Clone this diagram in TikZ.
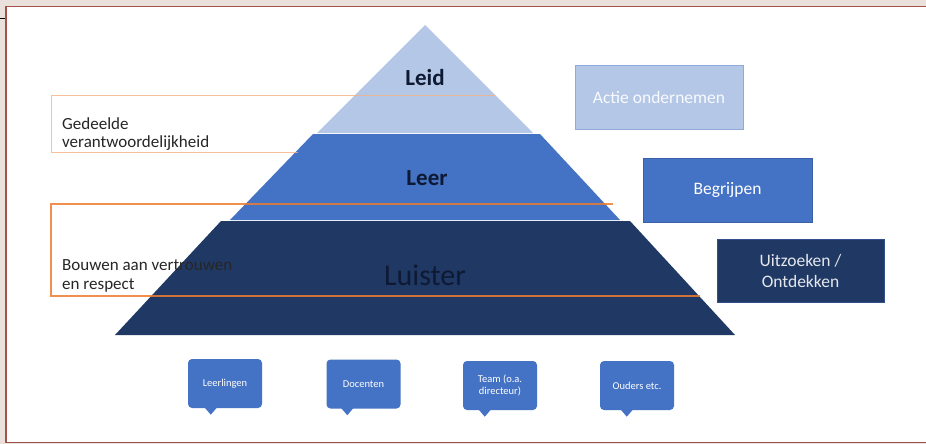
\documentclass[tikz,border=0pt]{standalone}
\usepackage{fontspec}
\setmainfont{Carlito}
\definecolor{bgc}{HTML}{EBE1DC}
\definecolor{framec}{HTML}{A3524B}
\definecolor{lightb}{HTML}{B4C7E7}
\definecolor{lightbd}{HTML}{8FAADC}
\definecolor{midb}{HTML}{4472C4}
\definecolor{darkb}{HTML}{203864}
\definecolor{darkbd}{HTML}{34508A}
\definecolor{orangec}{HTML}{ED7D31}
\definecolor{peachc}{HTML}{F4B183}
\definecolor{txtc}{HTML}{262626}
\definecolor{navytxt}{HTML}{0E1A33}
\tikzset{
  layerlabel/.style={inner sep=0pt, text=navytxt, font=\fontsize{23}{26}\selectfont\bfseries},
  sidetext/.style={inner sep=0pt, anchor=base west, align=left, text=txtc, font=\fontsize{17}{18.5}\selectfont},
  rbox/.style={minimum width=168pt, minimum height=63pt, inner sep=2pt, line width=1pt, align=center, font=\fontsize{17.5}{21}\selectfont},
  bubble/.style={fill=midb, rounded corners=4pt, minimum width=74pt, minimum height=49pt, inner sep=2pt, align=center, text=white, font=\fontsize{10.5}{12}\selectfont},
  bubtip/.style={fill=midb},
  boxline/.style={line width=1.2pt}
}
\begin{document}
\begin{tikzpicture}[x=1pt,y=-1pt]
\useasboundingbox (0,0) rectangle (926,444);
% background and frame
\fill[bgc] (0,0) rectangle (926,444);
\draw[framec, fill=white, line width=1.6pt] (5.7,6.5) rectangle (945,442.5);
\draw[black, line width=1pt] (0,19) -- (5,19);
% pyramid
\fill[lightb] (425,25) -- (533,133) -- (317,133) -- cycle;
\fill[midb] (313,134) -- (540,134) -- (620,220) -- (230,220) -- cycle;
\fill[darkb] (221,221) -- (630,221) -- (735,335) -- (115,335) -- cycle;
% orange brackets
\draw[peachc, line width=1pt, opacity=0.8] (495,95) -- (51,95) -- (51,152) -- (298,152);
\draw[orangec, boxline, opacity=0.85] (613,204) -- (51,204) -- (51,296) -- (700,296);
% layer labels
\node[layerlabel] (leid) at (425,78) {Leid};
\node[layerlabel] (leer) at (427,178) {Leer};
\node[inner sep=0pt, text=navytxt, font=\fontsize{30}{34}\selectfont] (luister) at (425,275) {Luister};
% side texts
\node[sidetext] (ged) at (62,147.5) {Gedeelde\\verantwoordelijkheid};
\node[sidetext] (bouw) at (62,289) {Bouwen aan vertrouwen\\en respect};
% right boxes
\node[rbox, fill=lightb, draw=lightbd, text=white!92!lightb] (actie) at (659,97.5) {Actie ondernemen};
\node[rbox, fill=midb, draw=midb!85!black, minimum width=169pt, minimum height=64pt, text=white] (begr) at (727.5,190) {Begrijpen};
\node[rbox, fill=darkb, draw=darkbd, minimum width=167pt, text=white!88!darkb] (uitz) at (800.5,270.5) {Uitzoeken /\\Ontdekken};
% bubbles
\node[bubble] (b1) at (225,383.5) {Leerlingen};
\node[bubble] (b2) at (363.5,384) {Docenten};
\node[bubble] (b3) at (500,385.5) {Team (o.a.\\directeur)};
\node[bubble] (b4) at (637,385.5) {Ouders etc.};
\foreach \b/\o in {b1/23, b2/21, b3/22, b4/27}{
  \fill[bubtip] ([xshift=\o pt-6pt, yshift=0.5pt]\b.south west) -- ([xshift=\o pt+6pt, yshift=0.5pt]\b.south west) -- ([xshift=\o pt, yshift=-6.5pt]\b.south west) -- cycle;
}
\end{tikzpicture}
\end{document}
